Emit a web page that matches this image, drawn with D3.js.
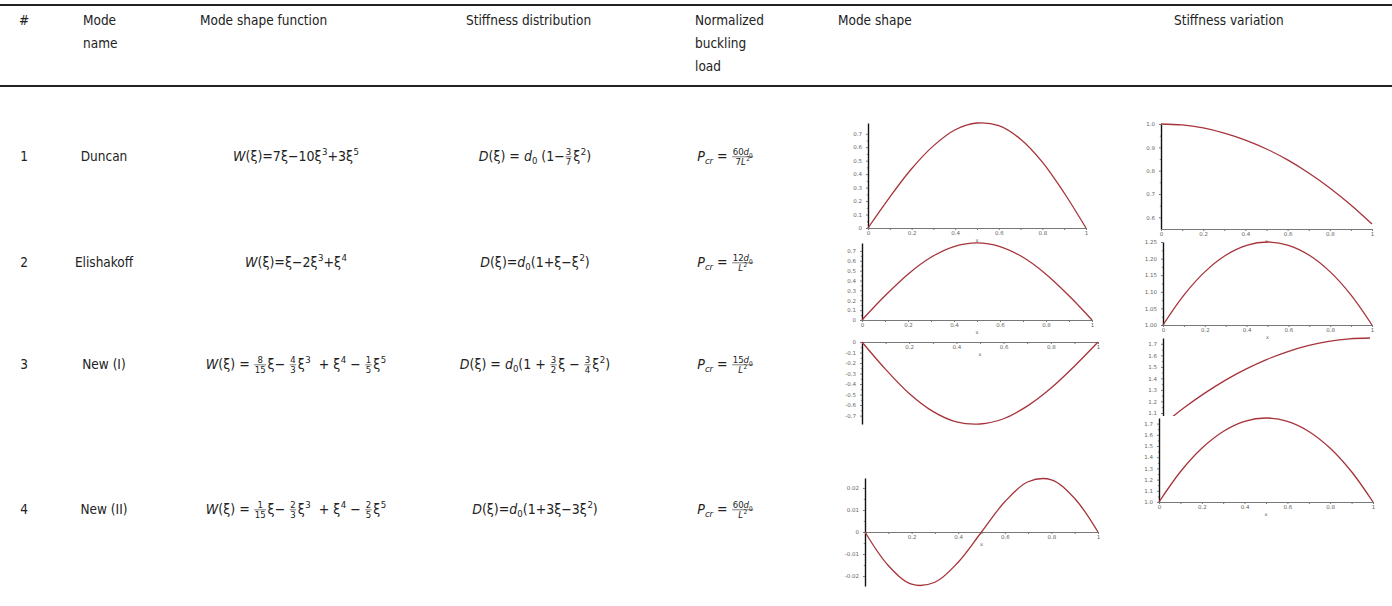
<!DOCTYPE html>
<html>
<head>
<meta charset="utf-8">
<script src="https://cdn.jsdelivr.net/npm/d3@7"></script>
<style>
  body { margin: 0; background: #fff; }
  svg text { font-family: "Liberation Sans Narrow", "DejaVu Sans Condensed", "Open Sans", sans-serif; white-space: pre; fill: #222; }
  .tiny text { font-family: "DejaVu Sans", sans-serif; fill: #666; }
</style>
</head>
<body>
<svg id="chart" width="1392" height="606"></svg>
<script>
const width = 1392;
const height = 606;

// table text
const headers = [
  { lines: ["#"], x: 24, anchor: "middle" },
  { lines: ["Mode", "name"], x: 83 },
  { lines: ["Mode shape function"], x: 200 },
  { lines: ["Stiffness distribution"], x: 466 },
  { lines: ["Normalized", "buckling", "load"], x: 695 },
  { lines: ["Mode shape"], x: 838 },
  { lines: ["Stiffness variation"], x: 1174 }
];
const modeIds = ["1", "2", "3", "4"];
const modeNames = ["Duncan", "Elishakoff", "New (I)", "New (II)"];

// formula pieces
const I = s => ({ t: s, i: true });
const SUP = (...a) => ({ sup: a });
const SUB = (...a) => ({ sub: a });
const FR = (n, d) => ({ fr: [n, d] });

const shapeFormulas = [
  [I("W"), "(ξ)=7ξ−10ξ", SUP("3"), "+3ξ", SUP("5")],
  [I("W"), "(ξ)=ξ−2ξ", SUP("3"), "+ξ", SUP("4")],
  [I("W"), "(ξ) = ", FR(["8"], ["15"]), "ξ− ", FR(["4"], ["3"]), "ξ", SUP("3"), "  + ξ", SUP("4"), " − ", FR(["1"], ["5"]), "ξ", SUP("5")],
  [I("W"), "(ξ) = ", FR(["1"], ["15"]), "ξ− ", FR(["2"], ["3"]), "ξ", SUP("3"), "  + ξ", SUP("4"), " − ", FR(["2"], ["5"]), "ξ", SUP("5")]
];
const stiffFormulas = [
  [I("D"), "(ξ) = ", I("d"), SUB("0"), " (1−", FR(["3"], ["7"]), "ξ", SUP("2"), ")"],
  [I("D"), "(ξ)=", I("d"), SUB("0"), "(1+ξ−ξ", SUP("2"), ")"],
  [I("D"), "(ξ) = ", I("d"), SUB("0"), "(1 + ", FR(["3"], ["2"]), "ξ − ", FR(["3"], ["4"]), "ξ", SUP("2"), ")"],
  [I("D"), "(ξ)=", I("d"), SUB("0"), "(1+3ξ−3ξ", SUP("2"), ")"]
];
const loadFormulas = [
  [I("P"), SUB(I("cr")), " = ", FR(["60", I("d"), SUB("0")], ["7", I("L"), SUP("2")])],
  [I("P"), SUB(I("cr")), " = ", FR(["12", I("d"), SUB("0")], [I("L"), SUP("2")])],
  [I("P"), SUB(I("cr")), " = ", FR(["15", I("d"), SUB("0")], [I("L"), SUP("2")])],
  [I("P"), SUB(I("cr")), " = ", FR(["60", I("d"), SUB("0")], [I("L"), SUP("2")])]
];

// curve values
const xi = [0, 0.1, 0.2, 0.3, 0.4, 0.5, 0.6, 0.7, 0.8, 0.9, 1];
const shape1 = [0, 0.23, 0.44, 0.61, 0.73, 0.78, 0.76, 0.66, 0.49, 0.26, 0];
const shape2 = [0, 0.245, 0.464, 0.635, 0.744, 0.781, 0.744, 0.635, 0.464, 0.245, 0];
const shape3 = [0, -0.26, -0.49, -0.66, -0.76, -0.78, -0.73, -0.61, -0.44, -0.23, 0];
const shape4 = [0, -0.0152, -0.0237, -0.0228, -0.0137, 0, 0.0137, 0.0228, 0.0237, 0.0152, 0];
const stiff1 = [1.0, 0.996, 0.983, 0.961, 0.931, 0.893, 0.846, 0.79, 0.726, 0.653, 0.571];
const stiff2 = [1.0, 1.09, 1.16, 1.21, 1.24, 1.25, 1.24, 1.21, 1.16, 1.09, 1.0];
const stiff3 = [1.0, 1.143, 1.27, 1.383, 1.48, 1.563, 1.63, 1.683, 1.72, 1.743, 1.75];
const stiff4 = [1.0, 1.27, 1.48, 1.63, 1.72, 1.75, 1.72, 1.63, 1.48, 1.27, 1.0];

// tick labels
const xLabels = ["0", "", "0.2", "", "0.4", "", "0.6", "", "0.8", "", "1"];
const xLabelsNoZero = ["", "", "0.2", "", "0.4", "", "0.6", "", "0.8", "", "1"];
const shapeTicks = [0, 0.1, 0.2, 0.3, 0.4, 0.5, 0.6, 0.7];
const shapeTickLabels = ["0", "0.1", "0.2", "0.3", "0.4", "0.5", "0.6", "0.7"];
const shape3Ticks = [0, -0.1, -0.2, -0.3, -0.4, -0.5, -0.6, -0.7];
const shape3TickLabels = ["0", "-0.1", "-0.2", "-0.3", "-0.4", "-0.5", "-0.6", "-0.7"];
const shape4Ticks = [0.02, 0.01, 0, -0.01, -0.02];
const shape4TickLabels = ["0.02", "0.01", "0", "-0.01", "-0.02"];
const stiff1Ticks = [0.6, 0.7, 0.8, 0.9, 1.0];
const stiff1TickLabels = ["0.6", "0.7", "0.8", "0.9", "1.0"];
const stiff2Ticks = [1.0, 1.05, 1.1, 1.15, 1.2, 1.25];
const stiff2TickLabels = ["1.00", "1.05", "1.10", "1.15", "1.20", "1.25"];
const stiff34Ticks = [1.0, 1.1, 1.2, 1.3, 1.4, 1.5, 1.6, 1.7];
const stiff34TickLabels = ["1.0", "1.1", "1.2", "1.3", "1.4", "1.5", "1.6", "1.7"];

const svg = d3.select("#chart");
const fs = 13.5;

// rules
[5, 86].forEach(y => {
  svg.append("line").attr("x1", 0).attr("x2", width).attr("y1", y).attr("y2", y)
    .attr("stroke", "#222").attr("stroke-width", 2);
});

// header
headers.forEach(h => {
  h.lines.forEach((ln, i) => {
    svg.append("text").attr("x", h.x).attr("y", 25 + i * 23)
      .attr("font-size", fs).attr("text-anchor", h.anchor || "start").text(ln);
  });
});

// inline math layout
function put(g, toks, x, y, size) {
  toks.forEach(tk => {
    if (typeof tk === "string") tk = { t: tk };
    if (tk.t !== undefined) {
      const el = g.append("text").attr("x", x).attr("y", y).attr("font-size", size)
        .style("font-style", tk.i ? "italic" : "normal").text(tk.t);
      x += el.node().getComputedTextLength();
    } else if (tk.sup) {
      x = put(g, tk.sup, x + 0.5, y - size * 0.42, size * 0.68);
    } else if (tk.sub) {
      x = put(g, tk.sub, x, y + size * 0.24, size * 0.68);
    } else if (tk.fr) {
      const f = size * 0.68;
      const gn = g.append("g"), gd = g.append("g");
      const wn = put(gn, tk.fr[0], 0, 0, f);
      const wd = put(gd, tk.fr[1], 0, 0, f);
      const w = Math.max(wn, wd) + 2;
      const ly = y - size * 0.3;
      gn.attr("transform", `translate(${x + (w - wn) / 2},${ly - f * 0.16})`);
      gd.attr("transform", `translate(${x + (w - wd) / 2},${ly + f * 0.84})`);
      g.append("line").attr("x1", x + 0.5).attr("x2", x + w - 0.5)
        .attr("y1", ly).attr("y2", ly).attr("stroke", "#222").attr("stroke-width", 0.6);
      x += w + 1;
    }
  });
  return x;
}

function formula(toks, cx, y, size) {
  const g = svg.append("g");
  const w = put(g, toks, 0, y, size);
  g.attr("transform", `translate(${cx - w / 2},0)`);
}

const rowY = [161, 267, 369, 514];
rowY.forEach((y, i) => {
  svg.append("text").attr("x", 24).attr("y", y).attr("font-size", fs)
    .attr("text-anchor", "middle").text(modeIds[i]);
  svg.append("text").attr("x", 104).attr("y", y).attr("font-size", fs)
    .attr("text-anchor", "middle").text(modeNames[i]);
  formula(shapeFormulas[i], 296, y, 14);
  formula(stiffFormulas[i], 535, y, 14);
  formula(loadFormulas[i], 726, y, 14);
});

// small plots
const plots = [
  { v: shape1, x: [868, 1086], y: [228, 123], dom: [0, 0.78], yt: shapeTicks, yl: shapeTickLabels, xl: xLabels, xAt: 0 },
  { v: shape2, x: [862, 1092], y: [320, 243], dom: [0, 0.78], yt: shapeTicks, yl: shapeTickLabels, xl: xLabels, xAt: 0 },
  { v: shape3, x: [862, 1098], y: [424, 342], dom: [-0.78, 0], yt: shape3Ticks, yl: shape3TickLabels, xl: xLabelsNoZero, xAt: 0 },
  { v: shape4, x: [865, 1098], y: [586, 478], dom: [-0.0245, 0.0245], yt: shape4Ticks, yl: shape4TickLabels, xl: xLabelsNoZero, xAt: 0 },
  { v: stiff1, x: [1161, 1372], y: [229, 124], dom: [0.55, 1.0], yt: stiff1Ticks, yl: stiff1TickLabels, xl: xLabels, xAt: 0.55 },
  { v: stiff2, x: [1163, 1372], y: [325, 242], dom: [1.0, 1.25], yt: stiff2Ticks, yl: stiff2TickLabels, xl: xLabels, xAt: 1.0 },
  { v: stiff3, x: [1163, 1370], y: [424.5, 338], dom: [1.0, 1.75], yt: stiff34Ticks, yl: stiff34TickLabels, xl: xLabels, xAt: 1.0, clip: true },
  { v: stiff4, x: [1159, 1373], y: [502, 418], dom: [1.0, 1.75], yt: stiff34Ticks, yl: stiff34TickLabels, xl: xLabels, xAt: 1.0 }
];

svg.append("clipPath").attr("id", "clip3").append("rect")
  .attr("x", 1100).attr("y", 330).attr("width", 292).attr("height", 86);

plots.forEach(p => {
  const x = d3.scaleLinear().domain([0, 1]).range(p.x);
  const y = d3.scaleLinear().domain(p.dom).range(p.y);
  const g = svg.append("g").attr("class", "tiny");
  if (p.clip) g.attr("clip-path", "url(#clip3)");

  const minor = p.yt.slice(1).map((t, i) => (t + p.yt[i]) / 2);
  const yAxis = d3.axisLeft(y).tickValues(p.yt).tickFormat((d, i) => p.yl[i])
    .tickSize(2).tickSizeOuter(0).tickPadding(4);
  const ya = g.append("g").attr("transform", `translate(${p.x[0]},0)`).call(yAxis);
  g.append("g").attr("transform", `translate(${p.x[0]},0)`)
    .call(d3.axisLeft(y).tickValues(minor).tickFormat("").tickSize(1.2).tickSizeOuter(0))
    .select(".domain").remove();
  ya.select(".domain").attr("stroke", "#111").attr("stroke-width", 1.4);

  const xAxis = d3.axisBottom(x).tickValues(xi).tickFormat((d, i) => p.xl[i])
    .tickSize(2).tickSizeOuter(0).tickPadding(1.5);
  const xa = g.append("g").attr("transform", `translate(0,${y(p.xAt)})`).call(xAxis);
  xa.select(".domain").attr("stroke", "#555").attr("stroke-width", 0.8);

  g.selectAll(".tick line").attr("stroke", "#777");
  g.selectAll(".tick text").attr("font-size", 5.5).attr("fill", "#666");

  g.append("text").attr("x", x(0.5)).attr("y", y(p.xAt) + 14)
    .attr("font-size", 5).attr("text-anchor", "middle").attr("fill", "#777").text("x");

  g.append("path")
    .datum(xi.map((d, i) => [d, p.v[i]]))
    .attr("fill", "none").attr("stroke", "#a6333a").attr("stroke-width", 1.3)
    .attr("d", d3.line().x(d => x(d[0])).y(d => y(d[1])).curve(d3.curveCatmullRom));
});
</script>
</body>
</html>
